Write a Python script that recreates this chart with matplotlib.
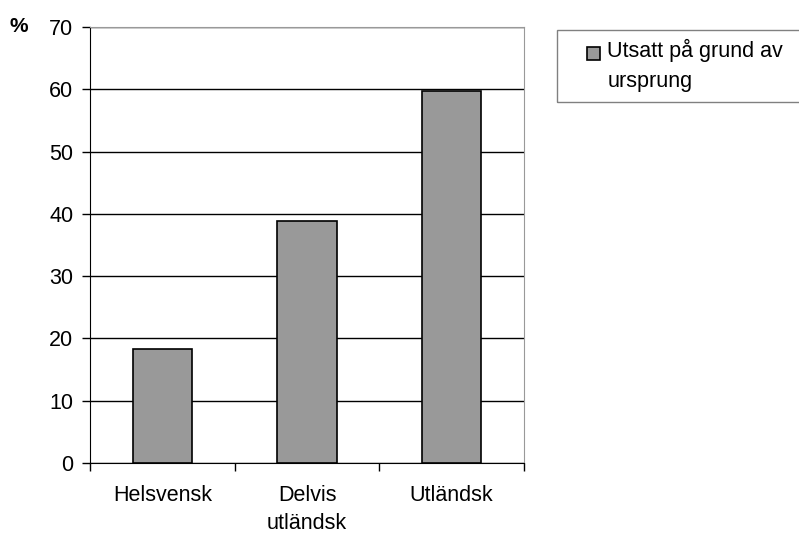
import matplotlib.pyplot as plt
from matplotlib.patches import Rectangle
from matplotlib.legend_handler import HandlerPatch
import numpy as np

plt.rcParams['font.family'] = ['Liberation Sans', 'DejaVu Sans']

categories = ["Helsvensk", "Delvis\nutländsk", "Utländsk"]
values = [18.3, 38.8, 59.7]
series_name = "Utsatt på grund av\nursprung"

W, H = 799, 533
fig = plt.figure(figsize=(W / 100, H / 100), dpi=100)
ax = fig.add_axes([90 / W, 1 - 463 / H, 434 / W, 436 / H])

x = np.arange(len(categories))
bars = ax.bar(x, values, width=0.41, color='#999999', edgecolor='black',
              linewidth=1.2, zorder=3, label=series_name)

ax.set_xlim(-0.5, len(categories) - 0.5)
ax.set_ylim(0, 70)
ax.set_yticks(range(0, 71, 10))
ax.yaxis.grid(True, color='black', linewidth=1.0, zorder=0)
ax.set_axisbelow(True)

ax.set_xticks(x)
ax.set_xticklabels(categories, fontsize=15.5, linespacing=1.4)
ax.set_xticks(np.arange(-0.5, len(categories)), minor=True)
ax.tick_params(axis='x', which='major', length=0, pad=16)
ax.tick_params(axis='x', which='minor', length=6, width=1, direction='out')
ax.tick_params(axis='y', length=6, width=1, direction='out', labelsize=15.5, pad=6)

for s in ['top', 'right']:
    ax.spines[s].set_color('#999999')
ax.spines['left'].set_color('black')
ax.spines['bottom'].set_color('black')

fig.text(10 / W, 1 - 26 / H, "%", fontsize=15, fontweight='bold', va='center')


# put the legend square next to the first line of the label
def top_square(legend, orig_handle, xdescent, ydescent, width, height, fontsize):
    return Rectangle((-xdescent, -ydescent + 9), width, height)


def first_bar_style(legend_patch, orig_handle):
    legend_patch.update_from(orig_handle.patches[0])


fig.patches.append(Rectangle((557 / W, 1 - 102 / H), 260 / W, 72 / H,
                             transform=fig.transFigure, fill=False,
                             edgecolor='#808080', linewidth=1.0))
leg = fig.legend(handles=[bars], labels=[series_name], loc='upper left',
                 bbox_to_anchor=(587 / W, 1 - 39 / H), fontsize=15.5,
                 frameon=False, handlelength=0.6, handleheight=0.6,
                 handletextpad=0.35, borderpad=0, borderaxespad=0,
                 handler_map={type(bars): HandlerPatch(patch_func=top_square,
                                                       update_func=first_bar_style)})
for t in leg.get_texts():
    t.set_linespacing(1.55)

fig.savefig("out.png", dpi=100)
